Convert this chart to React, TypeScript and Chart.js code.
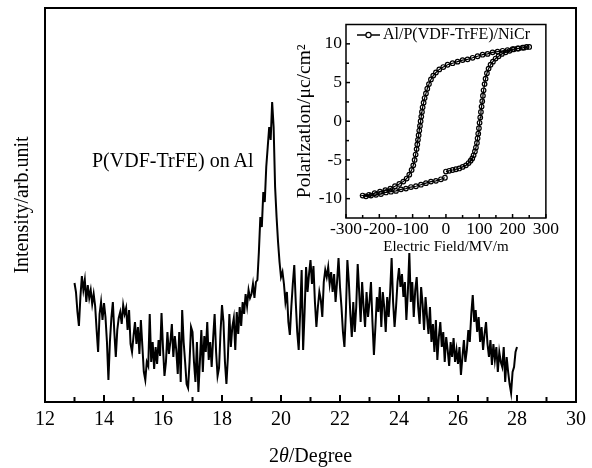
import React, { useEffect, useRef } from "react";
import { Chart, registerables } from "chart.js";

Chart.register(...registerables);

const FONT = "'Liberation Serif', 'Times New Roman', serif";

// ---- Main XRD pattern ----
const xTickValues = [12, 14, 16, 18, 20, 22, 24, 26, 28, 30];
const xMinorTickValues = [13, 15, 17, 19, 21, 23, 25, 27, 29];
const scanStart = 13.0; // 2θ of first sample
const scanStep = 0.05; // 2θ step between samples
// intensity (arb. units), one row per degree
const intensity = [
  119, 110, 90, 76, 105, 126, 112, 122, 100, 117, 104, 112, 98, 108, 96, 72, 50, 88, 100, 82,
  99, 85, 60, 22, 60, 84, 100, 70, 45, 72, 84, 90, 78, 97, 88, 94, 72, 92, 58, 50,
  66, 80, 58, 75, 48, 82, 56, 30, 22, 40, 36, 88, 40, 60, 33, 55, 38, 62, 46, 89,
  54, 26, 40, 70, 48, 60, 78, 45, 66, 52, 28, 70, 20, 92, 60, 40, 18, 14, 40, 75,
  70, 40, 20, 60, 10, 40, 72, 30, 66, 50, 80, 42, 60, 35, 64, 88, 50, 26, 34, 70,
  97, 80, 40, 18, 45, 88, 55, 75, 84, 52, 90, 68, 95, 76, 100, 88, 108, 96, 112, 104,
  108, 118, 104, 120, 122, 150, 185, 175, 210, 200, 235, 255, 275, 262, 300, 275, 215, 185, 160, 140,
  125, 130, 118, 100, 110, 80, 67, 95, 118, 137, 100, 70, 52, 90, 132, 52, 90, 135, 110, 128,
  142, 118, 136, 100, 75, 95, 110, 102, 85, 120, 132, 125, 135, 118, 130, 110, 128, 100, 120, 144,
  115, 95, 70, 55, 90, 142, 120, 88, 65, 100, 70, 95, 138, 110, 80, 120, 95, 75, 110, 85,
  100, 120, 80, 47, 75, 105, 90, 115, 75, 110, 95, 70, 105, 85, 110, 144, 100, 75, 95, 120,
  134, 115, 128, 105, 120, 82, 110, 149, 100, 120, 85, 112, 125, 95, 78, 115, 98, 72, 105, 85,
  68, 95, 60, 78, 50, 82, 42, 65, 80, 55, 70, 40, 65, 52, 36, 60, 45, 64, 40, 52,
  38, 55, 27, 45, 62, 40, 52, 72, 60, 88, 107, 80, 92, 70, 85, 60, 75, 52, 68, 80,
  58, 45, 62, 37, 58, 42, 55, 30, 50, 40, 35, 55, 20, 45, 30, 18, 9, 30, 35, 50,
  55,
];
const mainLabel = "P(VDF-TrFE) on Al";
const mainYTitle = "Intensity/arb.unit";

// ---- Inset hysteresis loop ----
const seriesLabel = "Al/P(VDF-TrFE)/NiCr";
const fieldValues = [
  // 0 -> +250
  0, 10, 20, 30, 40, 50, 60, 68, 74, 79, 83, 87, 90, 93, 95, 97, 99, 101, 103, 105,
  107, 109, 111, 113, 116, 119, 123, 128, 134, 141, 149, 158, 168, 179, 191, 204, 218, 234, 250,
  // +250 -> -250
  242, 230, 215, 200, 185, 170, 155, 140, 125, 110, 95, 80, 65, 50, 35, 20, 5, -8, -20, -30,
  -38, -45, -51, -56, -60, -64, -67, -70, -72, -74, -76, -78, -80, -82, -84, -86, -88, -91, -94, -98,
  -103, -110, -118, -128, -140, -153, -167, -182, -198, -214, -231, -250,
  // -250 -> 0
  -240, -225, -210, -195, -180, -165, -150, -135, -120, -105, -90, -75, -60, -45, -30, -15, -3,
];
const polarizationValues = [
  -6.5, -6.4, -6.3, -6.2, -6.1, -5.9, -5.7, -5.4, -5.1, -4.8, -4.4, -3.9, -3.4, -2.8, -2.2, -1.6, -0.9, -0.2, 0.5, 1.2,
  1.9, 2.6, 3.3, 4.0, 4.8, 5.5, 6.2, 6.8, 7.3, 7.7, 8.1, 8.4, 8.7, 8.9, 9.1, 9.3, 9.4, 9.5, 9.6,
  9.6, 9.5, 9.4, 9.3, 9.2, 9.1, 9.0, 8.9, 8.7, 8.6, 8.4, 8.2, 8.0, 7.9, 7.7, 7.5, 7.3, 7.0, 6.7, 6.3,
  5.9, 5.4, 4.8, 4.2, 3.6, 3.0, 2.4, 1.8, 1.2, 0.6, 0.0, -0.6, -1.2, -1.8, -2.4, -3.0, -3.6, -4.3, -5.0, -5.7,
  -6.3, -6.9, -7.4, -7.8, -8.1, -8.4, -8.7, -8.9, -9.1, -9.3, -9.5, -9.6,
  -9.7, -9.6, -9.5, -9.4, -9.2, -9.1, -9.0, -8.8, -8.7, -8.5, -8.4, -8.2, -8.0, -7.8, -7.7, -7.5, -7.3,
];
const insetXTickValues = [-300, -200, -100, 0, 100, 200, 300];
const insetXMinorTickValues = [-250, -150, -50, 50, 150, 250];
const insetYTickValues = [-10, -5, 0, 5, 10];
const insetYMinorTickValues = [-7.5, -2.5, 2.5, 7.5];
const insetXTitle = "Electric Field/MV/m";
const insetYTitle = "Polarlzatlon/μc/cm²";

const mainFramePlugin = {
  id: "mainFrame",
  afterDatasetsDraw(chart: any) {
    const { ctx, chartArea, scales } = chart;
    const { left, right, top, bottom } = chartArea;
    ctx.save();
    ctx.strokeStyle = "#000";
    ctx.lineWidth = 2;
    ctx.strokeRect(left, top, right - left, bottom - top);
    const drawTick = (v: number, len: number) => {
      const px = scales.x.getPixelForValue(v);
      ctx.beginPath();
      ctx.moveTo(px, bottom);
      ctx.lineTo(px, bottom - len);
      ctx.stroke();
    };
    xTickValues.forEach((v) => drawTick(v, 7));
    xMinorTickValues.forEach((v) => drawTick(v, 5));
    ctx.restore();
  },
};

const insetPlugin = {
  id: "insetFrame",
  afterDatasetsDraw(chart: any) {
    const { ctx, chartArea, scales } = chart;
    const { left, right, top, bottom } = chartArea;
    ctx.save();
    ctx.strokeStyle = "#000";
    ctx.lineWidth = 1.5;
    ctx.strokeRect(left, top, right - left, bottom - top);
    const xt = (v: number, len: number) => {
      const px = scales.x.getPixelForValue(v);
      ctx.beginPath();
      ctx.moveTo(px, bottom);
      ctx.lineTo(px, bottom - len);
      ctx.stroke();
    };
    const yt = (v: number, len: number) => {
      const py = scales.y.getPixelForValue(v);
      ctx.beginPath();
      ctx.moveTo(left, py);
      ctx.lineTo(left + len, py);
      ctx.stroke();
    };
    insetXTickValues.forEach((v) => xt(v, 4));
    insetXMinorTickValues.forEach((v) => xt(v, 3));
    insetYTickValues.forEach((v) => yt(v, 4));
    insetYMinorTickValues.forEach((v) => yt(v, 3));

    // legend
    const ly = top + 10.5;
    const lx = left + 11;
    ctx.lineWidth = 1.5;
    ctx.beginPath();
    ctx.moveTo(lx, ly);
    ctx.lineTo(lx + 23, ly);
    ctx.stroke();
    ctx.fillStyle = "#fff";
    ctx.beginPath();
    ctx.arc(lx + 11.5, ly, 2.6, 0, Math.PI * 2);
    ctx.fill();
    ctx.lineWidth = 1.2;
    ctx.stroke();
    ctx.fillStyle = "#000";
    ctx.font = `16px ${FONT}`;
    ctx.textBaseline = "middle";
    ctx.textAlign = "left";
    ctx.fillText(chart.data.datasets[0].label, lx + 26, ly);
    ctx.restore();
  },
};

export default function App() {
  const mainRef = useRef<HTMLCanvasElement | null>(null);
  const insetRef = useRef<HTMLCanvasElement | null>(null);

  useEffect(() => {
    const mainChart = new Chart(mainRef.current as HTMLCanvasElement, {
      type: "line",
      data: {
        datasets: [
          {
            label: mainLabel,
            data: intensity.map((v, i) => ({ x: scanStart + i * scanStep, y: v })),
            borderColor: "#000",
            borderWidth: 2,
            pointRadius: 0,
            tension: 0,
            fill: false,
          },
        ],
      },
      options: {
        animation: false,
        responsive: false,
        layout: { padding: { top: 8, right: 16, left: 0, bottom: 0 } },
        plugins: { legend: { display: false }, tooltip: { enabled: false } },
        scales: {
          x: {
            type: "linear",
            min: 12,
            max: 30,
            afterBuildTicks: (s: any) => {
              s.ticks = xTickValues.map((v) => ({ value: v }));
            },
            afterFit: (s: any) => {
              s.height = 66;
            },
            grid: { display: false, drawTicks: false },
            border: { display: false },
            ticks: {
              padding: 6,
              color: "#000",
              font: { size: 20, family: FONT },
              maxRotation: 0,
              autoSkip: false,
            },
          },
          y: {
            type: "linear",
            min: 0,
            max: 394,
            afterFit: (s: any) => {
              s.width = 45;
            },
            grid: { display: false, drawTicks: false },
            border: { display: false },
            ticks: { display: false },
            title: {
              display: true,
              text: mainYTitle,
              color: "#000",
              font: { size: 20, family: FONT },
              padding: { top: 11, bottom: 0 },
            },
          },
        },
      } as any,
      plugins: [mainFramePlugin],
    });

    const insetChart = new Chart(insetRef.current as HTMLCanvasElement, {
      type: "scatter",
      data: {
        datasets: [
          {
            label: seriesLabel,
            data: fieldValues.map((e, i) => ({ x: e, y: polarizationValues[i] })),
            showLine: true,
            borderColor: "#000",
            borderWidth: 1.2,
            pointRadius: 2.3,
            pointBorderWidth: 1.2,
            pointBorderColor: "#000",
            pointBackgroundColor: "rgba(255,255,255,0)",
            tension: 0,
          },
        ],
      },
      options: {
        animation: false,
        responsive: false,
        layout: { padding: { top: 13, right: 12, left: 0, bottom: 0 } },
        plugins: { legend: { display: false }, tooltip: { enabled: false } },
        scales: {
          x: {
            type: "linear",
            min: -300,
            max: 300,
            afterBuildTicks: (s: any) => {
              s.ticks = insetXTickValues.map((v) => ({ value: v }));
            },
            afterFit: (s: any) => {
              s.height = 44;
            },
            grid: { display: false, drawTicks: false },
            border: { display: false },
            ticks: {
              padding: 1,
              color: "#000",
              font: { size: 17.5, family: FONT },
              maxRotation: 0,
              autoSkip: false,
            },
            title: {
              display: true,
              text: insetXTitle,
              color: "#000",
              font: { size: 15, family: FONT },
              padding: { top: 0, bottom: 6 },
            },
          },
          y: {
            type: "linear",
            min: -12.5,
            max: 12.5,
            afterBuildTicks: (s: any) => {
              s.ticks = insetYTickValues.map((v) => ({ value: v }));
            },
            afterFit: (s: any) => {
              s.width = 56;
            },
            grid: { display: false, drawTicks: false },
            border: { display: false },
            ticks: {
              padding: 4,
              color: "#000",
              font: { size: 17.5, family: FONT },
              autoSkip: false,
            },
            title: {
              display: true,
              text: insetYTitle,
              color: "#000",
              font: { size: 19.5, family: FONT },
              padding: { top: 3, bottom: 0 },
            },
          },
        },
      } as any,
      plugins: [insetPlugin],
    });

    return () => {
      mainChart.destroy();
      insetChart.destroy();
    };
  }, []);

  return (
    <div
      style={{
        position: "fixed",
        left: 0,
        top: 0,
        width: 592,
        height: 468,
        background: "#fff",
        overflow: "hidden",
        fontFamily: FONT,
        color: "#000",
      }}
    >
      <canvas
        ref={mainRef}
        width={592}
        height={468}
        style={{ position: "absolute", left: 0, top: 0, width: 592, height: 468 }}
      />
      <canvas
        ref={insetRef}
        width={270}
        height={252}
        style={{ position: "absolute", left: 290, top: 10, width: 270, height: 252 }}
      />
      <div
        style={{
          position: "absolute",
          left: 92,
          top: 148,
          fontSize: 20,
          lineHeight: "24px",
          whiteSpace: "nowrap",
        }}
      >
        {mainLabel}
      </div>
      <div
        style={{
          position: "absolute",
          left: 0,
          top: 443,
          width: 621,
          textAlign: "center",
          fontSize: 20,
          lineHeight: "24px",
          whiteSpace: "nowrap",
        }}
      >
        2<i>θ</i>/Degree
      </div>
    </div>
  );
}
